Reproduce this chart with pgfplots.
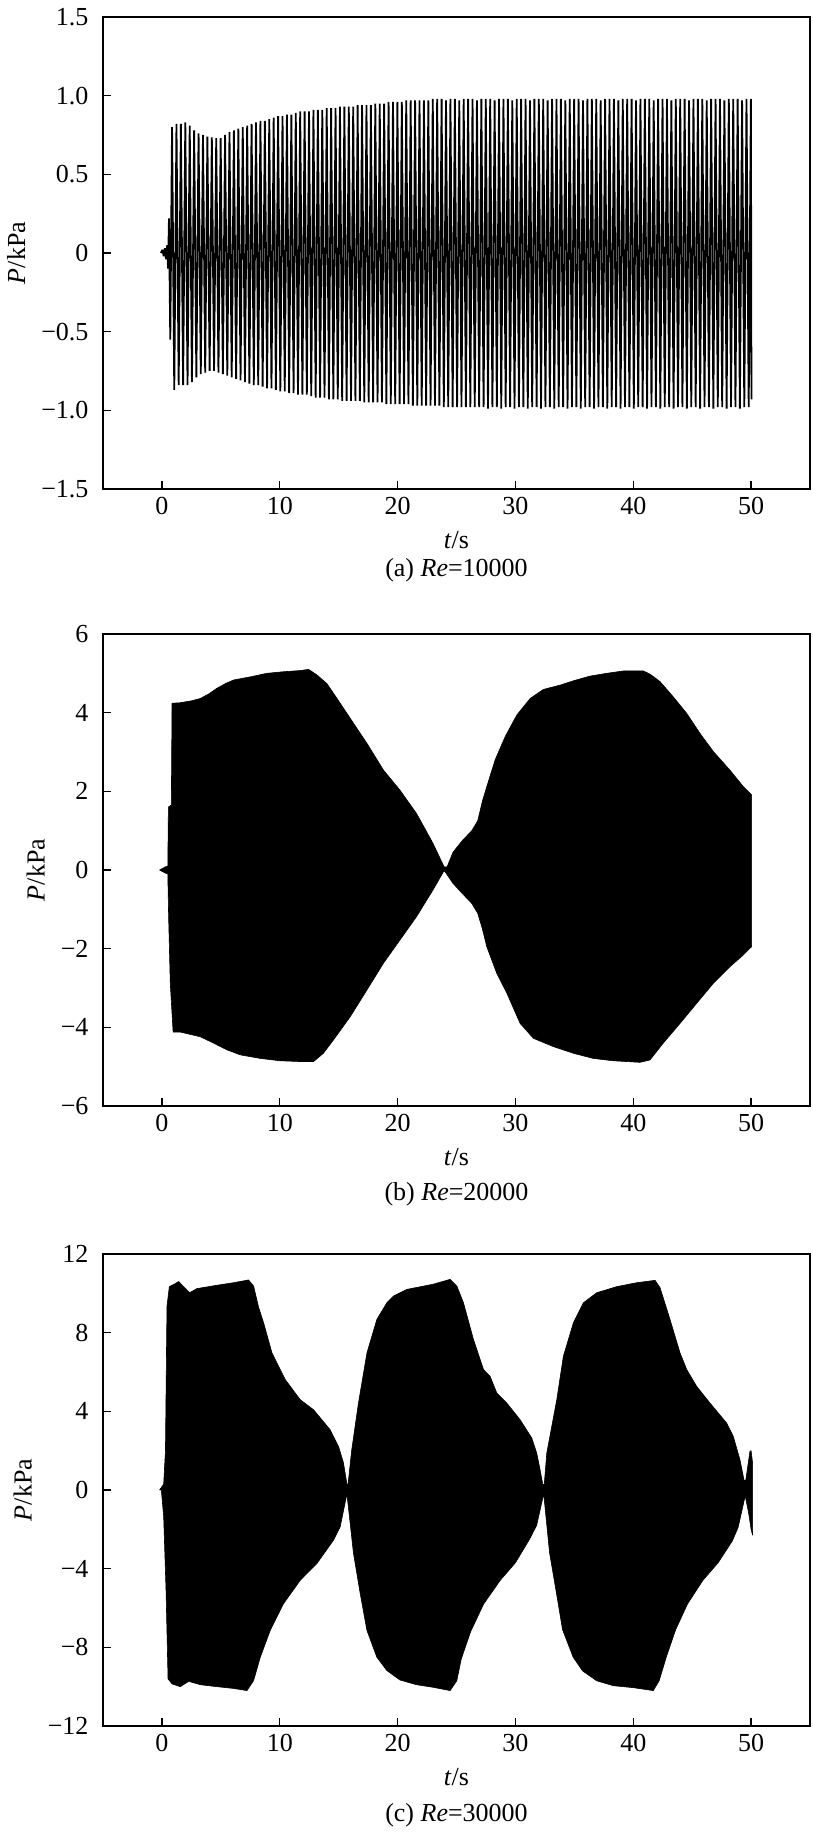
\documentclass[border=0pt]{standalone}
\usepackage{fontspec}
\setmainfont{Liberation Serif}
\usepackage{pgfplots}
\usepackage{pgfplotstable}
\pgfplotsset{compat=1.18}
\newcommand{\bigfont}{\fontsize{26}{30}\selectfont}
\pgfplotsset{
  myaxis/.style={
    scale only axis, width=707pt, height=472pt,
    anchor=south west,
    xmin=-5, xmax=55,
    xtick={0,10,20,30,40,50}, xticklabels={0,10,20,30,40,50},
    xtick pos=bottom, ytick pos=left, tick align=inside,
    major tick length=8pt,
    axis line style={line width=1.6pt},
    every tick/.style={line width=1.4pt, black},
    tick label style={font=\bigfont},
    xticklabel style={yshift=-5pt},
    yticklabel style={xshift=-11pt},
    label style={font=\bigfont},
    xlabel={\textit{t}/s}, ylabel={\textit{P}/kPa},
    ylabel shift=9pt,
    every axis x label/.style={at={(axis description cs:0.5,0)}, anchor=center, yshift=-51pt, font=\bigfont},
    clip mode=individual,
  }
}
\pgfplotstableread{
t P
-0.10 0.00
0.05 0.02
0.15 -0.02
0.25 0.03
0.35 -0.04
0.45 0.05
0.52 -0.10
0.60 0.22
0.71 -0.55
0.860 0.80
1.048 -0.87
1.235 0.82
1.423 -0.84
1.610 0.82
1.798 -0.84
1.985 0.83
2.173 -0.84
2.360 0.81
2.548 -0.82
2.735 0.78
2.923 -0.79
3.110 0.76
3.298 -0.77
3.485 0.75
3.673 -0.76
3.860 0.74
4.048 -0.75
4.235 0.735
4.423 -0.75
4.610 0.73
4.798 -0.76
4.985 0.73
5.173 -0.77
5.360 0.75
5.548 -0.78
5.735 0.77
5.923 -0.79
6.110 0.78
6.298 -0.80
6.485 0.79
6.673 -0.81
6.860 0.80
7.048 -0.82
7.235 0.81
7.423 -0.83
7.610 0.82
7.798 -0.84
7.985 0.83
8.173 -0.84
8.360 0.84
8.548 -0.85
8.735 0.84
8.923 -0.86
9.110 0.85
9.298 -0.86
9.485 0.86
9.673 -0.87
9.860 0.87
10.048 -0.88
10.235 0.87
10.423 -0.88
10.610 0.88
10.798 -0.89
10.985 0.88
11.173 -0.89
11.360 0.89
11.548 -0.90
11.735 0.90
11.923 -0.90
12.110 0.90
12.298 -0.90
12.485 0.90
12.673 -0.91
12.860 0.91
13.048 -0.92
13.235 0.91
13.423 -0.92
13.610 0.91
13.798 -0.92
13.985 0.92
14.173 -0.93
14.360 0.92
14.548 -0.93
14.735 0.92
14.923 -0.93
15.110 0.93
15.298 -0.94
15.485 0.93
15.673 -0.94
15.860 0.93
16.048 -0.94
16.235 0.93
16.423 -0.94
16.610 0.94
16.798 -0.94
16.985 0.94
17.173 -0.95
17.360 0.94
17.548 -0.95
17.735 0.94
17.923 -0.95
18.110 0.95
18.298 -0.95
18.485 0.95
18.673 -0.95
18.860 0.95
19.048 -0.96
19.235 0.96
19.423 -0.96
19.610 0.96
19.798 -0.96
19.985 0.96
20.173 -0.96
20.360 0.96
20.548 -0.96
20.735 0.97
20.923 -0.96
21.110 0.97
21.298 -0.97
21.485 0.97
21.673 -0.97
21.860 0.97
22.048 -0.97
22.235 0.97
22.423 -0.97
22.610 0.97
22.798 -0.97
22.985 0.98
23.173 -0.97
23.360 0.98
23.548 -0.97
23.735 0.98
23.923 -0.98
24.110 0.97
24.298 -0.98
24.485 0.98
24.673 -0.98
24.860 0.98
25.048 -0.98
25.235 0.97
25.423 -0.98
25.610 0.98
25.798 -0.98
25.985 0.98
26.173 -0.98
26.360 0.98
26.548 -0.98
26.735 0.97
26.923 -0.98
27.110 0.98
27.298 -0.98
27.485 0.98
27.673 -0.99
27.860 0.98
28.048 -0.98
28.235 0.97
28.423 -0.98
28.610 0.98
28.798 -0.99
28.985 0.98
29.173 -0.98
29.360 0.98
29.548 -0.98
29.735 0.97
29.923 -0.99
30.110 0.98
30.298 -0.98
30.485 0.98
30.673 -0.98
30.860 0.98
31.048 -0.99
31.235 0.97
31.423 -0.98
31.610 0.98
31.798 -0.98
31.985 0.98
32.173 -0.99
32.360 0.98
32.548 -0.98
32.735 0.97
32.923 -0.98
33.110 0.98
33.298 -0.99
33.485 0.98
33.673 -0.98
33.860 0.98
34.048 -0.98
34.235 0.97
34.423 -0.99
34.610 0.98
34.798 -0.98
34.985 0.98
35.173 -0.98
35.360 0.98
35.548 -0.99
35.735 0.97
35.923 -0.98
36.110 0.98
36.298 -0.98
36.485 0.98
36.673 -0.99
36.860 0.98
37.048 -0.98
37.235 0.97
37.423 -0.98
37.610 0.98
37.798 -0.99
37.985 0.98
38.173 -0.98
38.360 0.98
38.548 -0.98
38.735 0.97
38.923 -0.99
39.110 0.98
39.298 -0.98
39.485 0.98
39.673 -0.98
39.860 0.98
40.048 -0.99
40.235 0.97
40.423 -0.98
40.610 0.98
40.798 -0.98
40.985 0.98
41.173 -0.99
41.360 0.98
41.548 -0.98
41.735 0.97
41.923 -0.98
42.110 0.98
42.298 -0.99
42.485 0.98
42.673 -0.98
42.860 0.98
43.048 -0.98
43.235 0.97
43.423 -0.99
43.610 0.98
43.798 -0.98
43.985 0.98
44.173 -0.98
44.360 0.98
44.548 -0.99
44.735 0.97
44.923 -0.98
45.110 0.98
45.298 -0.98
45.485 0.98
45.673 -0.99
45.860 0.98
46.048 -0.98
46.235 0.97
46.423 -0.98
46.610 0.98
46.798 -0.99
46.985 0.98
47.173 -0.98
47.360 0.98
47.548 -0.98
47.735 0.97
47.923 -0.99
48.110 0.98
48.298 -0.98
48.485 0.98
48.673 -0.98
48.860 0.98
49.048 -0.99
49.235 0.97
49.423 -0.98
49.610 0.98
49.798 -0.98
49.985 0.98
50.030 -0.93
}\dataA
\pgfplotstableread{
t P
-0.20 0.00
0.30 0.08
0.50 0.10
0.55 1.60
0.80 1.65
0.86 4.24
1.50 4.25
2.50 4.30
3.26 4.36
4.00 4.48
4.67 4.62
5.40 4.74
6.08 4.83
7.50 4.91
8.91 5.00
10.30 5.04
11.74 5.07
12.45 5.10
13.15 4.96
14.00 4.74
15.13 4.24
16.26 3.73
17.40 3.22
18.80 2.54
20.20 2.03
21.60 1.44
23.00 0.68
23.60 0.30
23.95 0.08
24.20 0.08
24.70 0.45
25.50 0.75
26.30 1.00
26.80 1.25
27.20 1.75
27.57 2.12
28.28 2.80
29.13 3.39
30.12 3.94
31.25 4.36
32.37 4.59
33.79 4.70
34.92 4.81
36.34 4.93
37.75 5.00
39.16 5.06
40.86 5.06
41.42 4.98
42.27 4.79
43.40 4.40
44.54 3.98
45.67 3.47
46.80 3.01
48.20 2.54
49.34 2.12
50.05 1.91
50.05 -1.95
49.90 -1.99
49.34 -2.16
48.20 -2.46
46.80 -2.88
45.38 -3.39
43.97 -3.90
42.55 -4.40
41.42 -4.83
40.58 -4.89
38.30 -4.85
36.60 -4.79
34.92 -4.66
33.22 -4.49
31.53 -4.28
30.40 -3.90
29.27 -3.13
28.42 -2.63
27.57 -1.95
27.20 -1.50
26.80 -1.10
26.30 -0.85
25.50 -0.60
24.70 -0.34
24.00 -0.03
23.90 -0.04
23.00 -0.51
21.60 -1.19
20.20 -1.78
18.80 -2.37
17.40 -3.05
15.98 -3.73
14.56 -4.32
13.70 -4.66
12.87 -4.87
11.74 -4.87
10.00 -4.85
8.35 -4.79
6.65 -4.70
5.50 -4.57
4.10 -4.36
3.26 -4.24
1.56 -4.12
0.95 -4.12
0.71 -2.88
0.57 -1.19
0.50 -0.10
0.30 -0.08
-0.20 0.00
}\dataB
\pgfplotstableread{
t P
-0.20 0.00
0.15 0.30
0.30 2.00
0.43 9.35
0.63 10.34
1.00 10.45
1.42 10.60
1.84 10.34
2.35 10.03
2.97 10.24
4.67 10.41
6.08 10.54
7.35 10.68
7.78 10.37
8.20 9.30
8.63 8.50
9.34 6.97
10.47 5.61
11.74 4.59
12.87 4.08
14.28 3.06
14.99 2.21
15.40 1.40
15.70 0.30
15.80 0.30
16.10 2.00
16.68 4.42
17.40 6.97
18.24 8.67
19.09 9.52
19.65 9.86
20.79 10.20
23.00 10.46
24.46 10.71
25.03 10.37
25.59 9.52
26.44 7.65
27.29 6.12
27.85 5.78
28.42 4.93
29.27 4.42
30.40 3.57
31.39 2.64
31.81 1.87
32.10 1.00
32.32 0.30
32.45 0.30
32.66 1.87
33.51 4.59
34.07 6.80
34.92 8.50
35.77 9.52
36.90 10.03
38.60 10.34
40.30 10.54
41.85 10.66
42.27 10.29
43.12 8.67
43.97 6.97
44.54 6.12
45.38 5.27
46.51 4.42
47.93 3.40
48.49 2.72
49.06 1.53
49.40 0.50
49.55 0.50
49.90 1.96
50.00 2.00
50.13 1.36
50.13 -2.30
50.00 -2.00
49.80 -1.20
49.50 -0.30
48.90 -1.90
48.40 -2.60
47.20 -3.70
45.90 -4.60
44.60 -5.80
43.60 -7.10
42.80 -8.50
42.20 -9.70
41.70 -10.20
40.00 -10.05
38.30 -9.95
36.90 -9.70
35.70 -9.20
34.90 -8.50
34.00 -7.10
33.50 -5.30
32.90 -3.20
32.40 -0.20
31.80 -1.80
31.20 -2.50
30.00 -3.70
28.70 -4.60
27.30 -5.80
26.20 -7.20
25.40 -8.60
25.03 -9.69
24.46 -10.20
23.00 -10.03
21.60 -9.90
20.20 -9.66
19.09 -9.18
18.24 -8.50
17.40 -7.14
16.83 -5.27
16.26 -3.23
15.70 -0.20
15.13 -1.87
14.56 -2.55
13.15 -3.74
11.74 -4.59
10.32 -5.78
9.19 -7.14
8.35 -8.50
7.78 -9.69
7.22 -10.20
6.08 -10.09
4.67 -10.00
3.26 -9.90
2.27 -9.73
1.56 -10.00
0.86 -9.86
0.52 -9.60
0.35 -5.10
0.15 -1.36
-0.05 0.00
-0.20 0.00
}\dataC
\begin{document}
\begin{tikzpicture}
\useasboundingbox (0,0) rectangle (812pt,1836pt);
% (a)
\begin{axis}[myaxis, at={(103pt,1347pt)},
  ymin=-1.5, ymax=1.5,
  ytick={-1.5,-1,-0.5,0,0.5,1,1.5},
  yticklabels={−1.5,−1.0,−0.5,0,0.5,1.0,1.5}]
\addplot[black, line width=1.8pt, line join=bevel] table[x=t,y=P] {\dataA};
\node[font=\bigfont] at (axis description cs:0.5,0) [yshift=-81pt] {(a) \textit{Re}=10000};
\end{axis}
% (b)
\begin{axis}[myaxis, at={(103pt,730pt)},
  ymin=-6, ymax=6,
  ytick={-6,-4,-2,0,2,4,6},
  yticklabels={−6,−4,−2,0,2,4,6}]
\addplot[black, fill=black, line width=0.6pt, line join=bevel] table[x=t,y=P] {\dataB} -- cycle;
\node[font=\bigfont] at (axis description cs:0.5,0) [yshift=-88pt] {(b) \textit{Re}=20000};
\end{axis}
% (c)
\begin{axis}[myaxis, at={(103pt,110pt)},
  ymin=-12, ymax=12,
  ytick={-12,-8,-4,0,4,8,12},
  yticklabels={−12,−8,−4,0,4,8,12}]
\addplot[black, fill=black, line width=0.6pt, line join=bevel] table[x=t,y=P] {\dataC} -- cycle;
\node[font=\bigfont] at (axis description cs:0.5,0) [yshift=-89pt] {(c) \textit{Re}=30000};
\end{axis}
\end{tikzpicture}
\end{document}
